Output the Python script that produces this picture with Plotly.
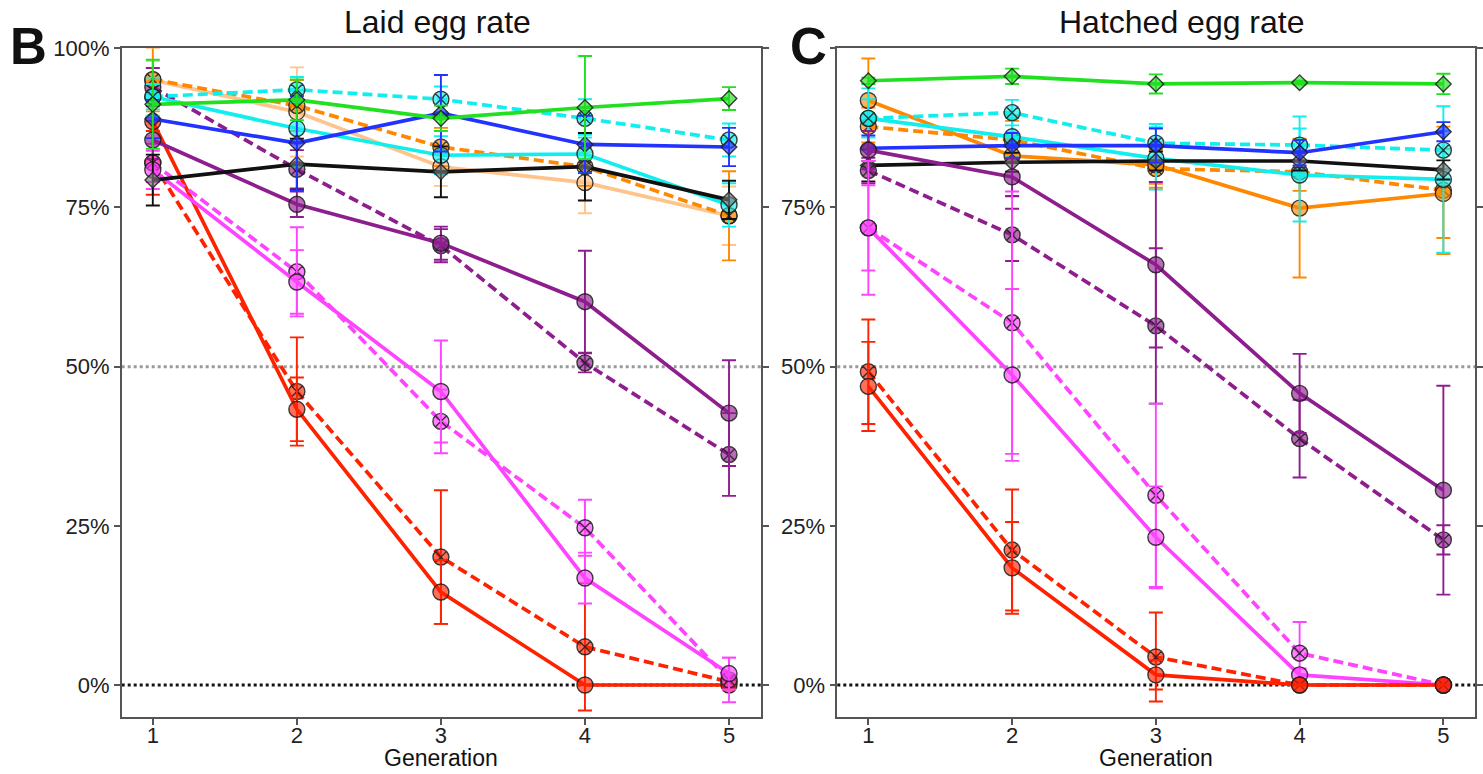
import plotly.graph_objects as go

generations = [1, 2, 3, 4, 5]
x_tick_labels = ["1", "2", "3", "4", "5"]
y_tick_vals = [0, 25, 50, 75, 100]
laid_y_tick_text = ["0%", "25%", "50%", "75%", "100%"]
hatched_y_tick_text = ["0%", "25%", "50%", "75%", ""]

# ---- Panel B: Laid egg rate (%) ----
laid_green = [91.2, 91.9, 89.0, 90.7, 92.1]
laid_green_err = [7.0, 3.2, 2.0, 8.1, 1.8]
laid_blue = [88.9, 85.1, 89.8, 84.9, 84.5]
laid_blue_err = [3.0, 7.4, 6.0, 4.5, 3.0]
laid_cyan = [92.4, 87.4, 83.2, 83.4, 75.4]
laid_cyan_err = [3.0, 6.0, 3.0, 3.0, 3.4]
laid_cyan_dash = [92.4, 93.5, 92.0, 89.0, 85.6]
laid_cyan_dash_err = [2.0, 2.0, 2.0, 3.0, 2.6]
laid_orange = [95.0, 90.0, 81.4, 78.9, 73.7]
laid_orange_err = [3.0, 7.0, 3.0, 4.8, 4.6]
laid_orange_dash = [95.1, 91.0, 84.5, 81.4, 73.7]
laid_orange_dash_err = [5.0, 4.0, 3.0, 3.0, 7.0]
laid_black = [79.3, 81.8, 80.6, 81.4, 76.2]
laid_black_err = [4.0, 4.0, 4.0, 5.3, 3.0]
laid_purple = [85.6, 75.5, 69.4, 60.2, 42.7]
laid_purple_err = [3.0, 2.0, 2.6, 8.0, 8.3]
laid_purple_dash = [93.9, 81.0, 69.0, 50.6, 36.2]
laid_purple_dash_err = [3.0, 3.0, 2.6, 1.5, 6.5]
laid_magenta = [80.9, 63.3, 46.1, 16.8, 1.8]
laid_magenta_err = [3.0, 5.0, 8.0, 4.0, 2.5]
laid_magenta_dash = [82.0, 64.9, 41.4, 24.7, 0.8]
laid_magenta_dash_err = [3.0, 7.0, 5.0, 4.4, 3.5]
laid_red = [88.5, 43.3, 14.6, 0.0, 0.0]
laid_red_err = [6.0, 5.0, 5.0, 0.0, 0.0]
laid_red_dash = [82.0, 46.1, 20.1, 6.0, 0.5]
laid_red_dash_err = [5.0, 8.5, 10.5, 10.0, 1.0]

# ---- Panel C: Hatched egg rate (%) ----
hatched_green = [94.9, 95.6, 94.4, 94.6, 94.4]
hatched_green_err = [0.5, 1.2, 1.5, 0.3, 1.6]
hatched_blue = [84.3, 84.7, 84.7, 83.6, 86.9]
hatched_blue_err = [2.0, 2.0, 2.7, 2.0, 1.5]
hatched_cyan = [89.0, 86.1, 82.7, 80.1, 79.4]
hatched_cyan_err = [4.7, 3.0, 4.9, 7.3, 11.5]
hatched_cyan_dash = [89.0, 89.9, 85.1, 84.8, 84.0]
hatched_cyan_dash_err = [3.0, 2.0, 3.0, 4.5, 3.0]
hatched_orange = [91.8, 83.1, 81.7, 74.9, 77.2]
hatched_orange_err = [6.6, 6.4, 3.0, 10.9, 7.0]
hatched_orange_dash = [87.7, 85.6, 81.1, 80.6, 77.7]
hatched_orange_dash_err = [3.0, 3.0, 3.0, 3.0, 10.0]
hatched_black = [81.6, 82.1, 82.3, 82.3, 80.9]
hatched_black_err = [2.5, 1.5, 1.5, 1.5, 1.5]
hatched_purple = [84.0, 79.8, 66.0, 45.8, 30.6]
hatched_purple_err = [3.0, 3.0, 13.0, 6.2, 16.4]
hatched_purple_dash = [80.8, 70.7, 56.4, 38.7, 22.8]
hatched_purple_dash_err = [2.0, 4.1, 12.2, 6.1, 2.3]
hatched_magenta = [71.8, 48.7, 23.2, 1.6, 0.0]
hatched_magenta_err = [10.5, 13.5, 8.0, 1.0, 0.0]
hatched_magenta_dash = [71.8, 56.9, 29.8, 5.0, 0.0]
hatched_magenta_dash_err = [6.7, 20.6, 14.4, 4.9, 0.0]
hatched_red = [46.9, 18.4, 1.6, 0.0, 0.0]
hatched_red_err = [7.0, 7.2, 2.3, 0.0, 0.0]
hatched_red_dash = [49.2, 21.2, 4.4, 0.0, 0.0]
hatched_red_dash_err = [8.2, 9.5, 7.0, 0.0, 0.0]

GREEN = (32, 224, 32)
BLUE = (34, 51, 255)
CYAN = (17, 238, 238)
ORANGE = (255, 136, 0)
PEACH = (255, 196, 140)
BLACK = (17, 17, 17)
PURPLE = (142, 30, 142)
MAGENTA = (255, 68, 255)
RED = (255, 34, 0)


def rgb(c, a=1.0):
    return f"rgba({c[0]},{c[1]},{c[2]},{a})"


DASH = "10px,5px"

# drawing order: first = bottom
laid_series = [
    (laid_red_dash, laid_red_dash_err, RED, DASH, "circle-x", None),
    (laid_red, laid_red_err, RED, "solid", "circle", None),
    (laid_magenta_dash, laid_magenta_dash_err, MAGENTA, DASH, "circle-x", None),
    (laid_magenta, laid_magenta_err, MAGENTA, "solid", "circle", None),
    (laid_purple_dash, laid_purple_dash_err, PURPLE, DASH, "circle-x", None),
    (laid_purple, laid_purple_err, PURPLE, "solid", "circle", None),
    (laid_orange, laid_orange_err, PEACH, "solid", "circle", None),
    (laid_orange_dash, laid_orange_dash_err, ORANGE, DASH, "circle-x", None),
    (laid_cyan, laid_cyan_err, CYAN, "solid", "circle", None),
    (laid_cyan_dash, laid_cyan_dash_err, CYAN, DASH, "circle-x", None),
    (laid_black, laid_black_err, BLACK, "solid", "diamond", (120, 120, 120)),
    (laid_blue, laid_blue_err, BLUE, "solid", "diamond", None),
    (laid_green, laid_green_err, GREEN, "solid", "diamond", None),
]

hatched_series = [
    (hatched_orange_dash, hatched_orange_dash_err, ORANGE, DASH, "circle-x", None),
    (hatched_orange, hatched_orange_err, ORANGE, "solid", "circle", None),
    (hatched_cyan, hatched_cyan_err, CYAN, "solid", "circle", None),
    (hatched_cyan_dash, hatched_cyan_dash_err, CYAN, DASH, "circle-x", None),
    (hatched_black, hatched_black_err, BLACK, "solid", "diamond", (120, 120, 120)),
    (hatched_blue, hatched_blue_err, BLUE, "solid", "diamond", None),
    (hatched_green, hatched_green_err, GREEN, "solid", "diamond", None),
    (hatched_purple_dash, hatched_purple_dash_err, PURPLE, DASH, "circle-x", None),
    (hatched_purple, hatched_purple_err, PURPLE, "solid", "circle", None),
    (hatched_magenta_dash, hatched_magenta_dash_err, MAGENTA, DASH, "circle-x", None),
    (hatched_magenta, hatched_magenta_err, MAGENTA, "solid", "circle", None),
    (hatched_red_dash, hatched_red_dash_err, RED, DASH, "circle-x", None),
    (hatched_red, hatched_red_err, RED, "solid", "circle", None),
]

fig = go.Figure()


def add_series(series, xa, ya):
    for vals, errs, col, dash, sym, fillc in series:
        fill = rgb(fillc if fillc else col, 0.65)
        size = 12 if sym == "diamond" else 16
        fig.add_trace(go.Scatter(
            x=generations, y=vals, xaxis=xa, yaxis=ya,
            mode="lines+markers",
            line=dict(color=rgb(col), width=3.7, dash=dash),
            marker=dict(symbol=sym, size=size, color=fill,
                        line=dict(color="rgba(30,30,30,0.85)", width=1.4)),
            error_y=dict(type="data", array=errs, visible=True,
                         color=rgb(col), thickness=1.9, width=7),
            showlegend=False, hoverinfo="skip",
        ))


add_series(laid_series, "x", "y")
add_series(hatched_series, "x2", "y2")

W, H = 1483, 774
dom_y = [1 - 717.3 / H, 1 - 48.3 / H]
dom_b = [121.7 / W, 760.7 / W]
dom_c = [837.3 / W, 1475.0 / W]
x_range = [0.784, 5.22]
y_range = [-5.07, 100]

axis_common = dict(showgrid=False, zeroline=False, showline=True, automargin=False,
                   linecolor="#555555", linewidth=1.6, ticks="outside",
                   ticklen=6, tickwidth=1.5, tickcolor="#555555",
                   tickfont=dict(family="Liberation Sans, Arial", size=22, color="#222222"))

fig.update_layout(
    width=W, height=H, autosize=False,
    margin=dict(l=0, r=0, t=0, b=0, pad=0),
    paper_bgcolor="white", plot_bgcolor="white",
    xaxis=dict(domain=dom_b, range=x_range, anchor="y", mirror=True, ticklabelstandoff=-9,
               tickvals=generations, ticktext=x_tick_labels, **axis_common),
    yaxis=dict(domain=dom_y, range=y_range, anchor="x", mirror="ticks",
               tickvals=y_tick_vals, ticktext=laid_y_tick_text, **axis_common),
    xaxis2=dict(domain=dom_c, range=x_range, anchor="y2", mirror=True, ticklabelstandoff=-9,
                tickvals=generations, ticktext=x_tick_labels, **axis_common),
    yaxis2=dict(domain=dom_y, range=y_range, anchor="x2", mirror="ticks",
                tickvals=y_tick_vals, ticktext=hatched_y_tick_text, **axis_common),
)

shapes = []
for xr, yr in (("x", "y"), ("x2", "y2")):
    shapes.append(dict(type="line", xref=f"{xr} domain", yref=yr, x0=0, x1=1, y0=50, y1=50,
                       line=dict(color="#9a9a9a", width=3, dash="dot"), layer="below"))
    shapes.append(dict(type="line", xref=f"{xr} domain", yref=yr, x0=0, x1=1, y0=0, y1=0,
                       line=dict(color="#111111", width=3, dash="dot"), layer="below"))
fig.update_layout(shapes=shapes)

font_main = "Liberation Sans, Arial"
ann = [
    dict(text="Laid egg rate", x=437.5 / W, y=1 - 22 / H, size=32),
    dict(text="Hatched egg rate", x=1181.5 / W, y=1 - 22 / H, size=32),
    dict(text="<b>B</b>", x=28.3 / W, y=1 - 46 / H, size=51),
    dict(text="<b>C</b>", x=808.3 / W, y=1 - 46 / H, size=51),
    dict(text="Generation", x=441.2 / W, y=1 - 758 / H, size=23),
    dict(text="Generation", x=1156.2 / W, y=1 - 758 / H, size=23),
]
for a in ann:
    fig.add_annotation(text=a["text"], x=a["x"], y=a["y"], xref="paper", yref="paper",
                       xanchor="center", yanchor="middle", showarrow=False,
                       font=dict(family=font_main, size=a["size"], color="#111111"))

fig.write_html("out.html", config={"displayModeBar": False},
               post_script="document.body.style.margin='0';document.body.style.overflow='hidden';")
